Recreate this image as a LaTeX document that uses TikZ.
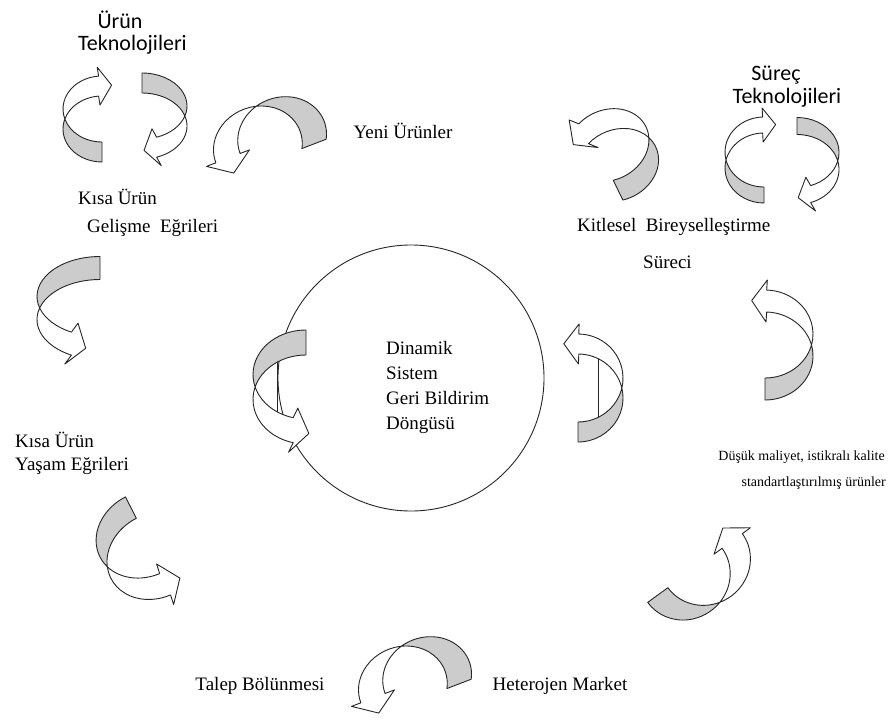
\documentclass[tikz,border=0pt]{standalone}
\usepackage{fontspec}
\setmainfont{Liberation Serif}
\newfontfamily\labelsans{Carlito}

\tikzset{
  backside/.style={draw=black!85, fill=gray!40, line width=0.9pt, line join=round},
  frontside/.style={draw=black!85, fill=white, line width=0.9pt, line join=round},
  ribbonedge/.style={draw=black!85, line width=0.9pt},
  lbl/.style={font=\fontsize{19}{22}\selectfont, inner sep=0pt},
  smalllbl/.style={font=\fontsize{14}{16}\selectfont, inner sep=0pt},
  sanslbl/.style={font=\labelsans\fontsize{22}{25}\selectfont, inner sep=0pt},
}

% Twisted ribbon arrow: a back (grey) band and a front (white) band with a head.
% #1 placement, #2 radius towards the twist, #3 other radius, #4 band width,
% #5 angle where the grey band ends, #6 angle of the head base,
% #7 extra half-width of the head, #8 head length
\newcommand\twistarrow[8]{%
  \begin{scope}[#1]
    \pgfmathsetmacro\twa{#2}%
    \pgfmathsetmacro\twb{#3}%
    \pgfmathsetmacro\twt{#4}%
    \pgfmathsetmacro\tws{#5}%
    \pgfmathsetmacro\twh{#6}%
    \pgfmathsetmacro\twphi{asin(\twt/(2*\twb))}%
    \pgfmathsetmacro\twsa{180+\twphi}%
    \pgfmathsetmacro\twla{180-\twphi}%
    \pgfmathsetmacro\twx{\twa*cos(\twphi)}%
    \pgfmathsetmacro\twmx{\twa*cos(\twh)}%
    \pgfmathsetmacro\twmy{\twb*sin(\twh)}%
    \pgfmathsetmacro\twn{sqrt((\twb*cos(\twh))^2+(\twa*sin(\twh))^2)}%
    \pgfmathsetmacro\twnx{\twb*cos(\twh)/\twn}%
    \pgfmathsetmacro\twny{\twa*sin(\twh)/\twn}%
    \pgfmathsetmacro\twhw{\twt/2+#7}%
    \pgfmathsetmacro\twhl{#8}%
    \filldraw[backside] (-\twx,0)
      arc[start angle=\twsa, end angle=\tws, x radius=\twa, y radius=\twb]
      -- ++(0,-\twt)
      arc[start angle=\tws, end angle=\twla, x radius=\twa, y radius=\twb]
      -- cycle;
    \filldraw[frontside] (-\twx,0)
      arc[start angle=\twsa, end angle=\twh, x radius=\twa, y radius=\twb]
      -- ({\twmx+\twhw*\twnx},{\twmy+\twhw*\twny})
      -- ({\twmx+\twhl*\twny},{\twmy-\twhl*\twnx})
      -- ({\twmx-\twhw*\twnx},{\twmy-\twhw*\twny})
      -- (\twmx,{\twmy-\twt/2})
      arc[start angle=\twh, end angle=\twla, x radius=\twa, y radius=\twb]
      -- cycle;
  \end{scope}}

\begin{document}
\begin{tikzpicture}[x=1pt,y=1pt]
  \fill[white] (0,0) rectangle (889,-720);
  \useasboundingbox (0,0) rectangle (889,-720);

  % central loop
  \node[draw=black!85, line width=0.9pt, circle, minimum size=266pt, inner sep=0pt] (loop) at (411,-378) {};
  \node[lbl, align=left, anchor=north west, font=\fontsize{19}{25}\selectfont] (loopText) at (386,-341)
    {Dinamik\\Sistem\\Geri Bildirim\\Döngüsü};

  % labels
  \node[sanslbl] (urun1) at (120,-20) {Ürün};
  \node[sanslbl, anchor=west] (urun2) at (78,-45) {Teknolojileri};
  \node[sanslbl] (surec1) at (776,-75) {Süreç};
  \node[sanslbl] (surec2) at (787,-98) {Teknolojileri};
  \node[lbl] (yeni) at (403,-131) {Yeni Ürünler};
  \node[lbl, anchor=west] (kisa1) at (78,-197) {Kısa Ürün};
  \node[lbl, anchor=west] (gelisme) at (87,-228) {Gelişme\ \ Eğrileri};
  \node[lbl, anchor=west] (kitlesel) at (577,-227) {Kitlesel\ \ Bireyselleştirme};
  \node[lbl, anchor=west] (sureci) at (643,-262) {Süreci};
  \node[lbl, anchor=west] (kisa2) at (15,-440) {Kısa Ürün};
  \node[lbl, anchor=west] (yasam) at (15,-466) {Yaşam Eğrileri};
  \node[smalllbl, anchor=east] (dusuk) at (885,-457) {Düşük maliyet, istikralı kalite};
  \node[smalllbl, anchor=east] (standart) at (886,-483) {standartlaştırılmış ürünler};
  \node[lbl] (talep) at (260,-686) {Talep Bölünmesi};
  \node[lbl] (hetero) at (560,-686) {Heterojen Market};

  % ribbon arrows
  \twistarrow{shift={(102,-119)}}{39}{33}{20}{270}{95}{9}{13}
  \twistarrow{shift={(142,-116)},rotate=180}{45}{33}{20}{270}{109}{9}{13}
  \twistarrow{shift={(270,-142)},rotate=111,xscale=-1}{40}{45}{26}{296}{90}{10}{16}
  \twistarrow{shift={(613,-155)},rotate=26,xscale=-1}{42}{35}{22}{285}{66}{9}{15}
  \twistarrow{shift={(764,-160)}}{39}{35}{16}{270}{92}{9}{13}
  \twistarrow{shift={(797,-161)},rotate=180}{42}{35}{17}{270}{109}{9}{13}
  \twistarrow{shift={(100,-308)},yscale=-1}{63}{40}{23}{270}{117}{10}{15}
  \twistarrow{shift={(306,-387)},yscale=-1}{53}{44.5}{25}{270}{104}{10}{16}
  \twistarrow{shift={(578,-388)},xscale=-1}{45}{44}{20}{270}{91}{10}{15}
  \twistarrow{shift={(765,-345)},xscale=-1}{48}{44}{22}{270}{92}{10}{15}
  \twistarrow{shift={(150,-545)},rotate=207,xscale=-1}{50}{42}{24}{270}{95}{10}{16}
  \twistarrow{shift={(695,-568)},rotate=-54,xscale=-1}{44}{46}{25}{270}{90}{10}{16}
  \twistarrow{shift={(415,-682)},rotate=111,xscale=-1}{40}{45}{26}{296}{90}{10}{16}

  % hidden ribbon edges seen through the two arrows on the loop
  \begin{scope}[shift={(306,-387)},yscale=-1]
    \draw[ribbonedge] (-29,-24.8) -- (-29,24.8);
  \end{scope}
  \begin{scope}[shift={(578,-388)},xscale=-1]
    \draw[ribbonedge] (-20,-29.4) -- (-20,29.4);
  \end{scope}
\end{tikzpicture}
\end{document}
